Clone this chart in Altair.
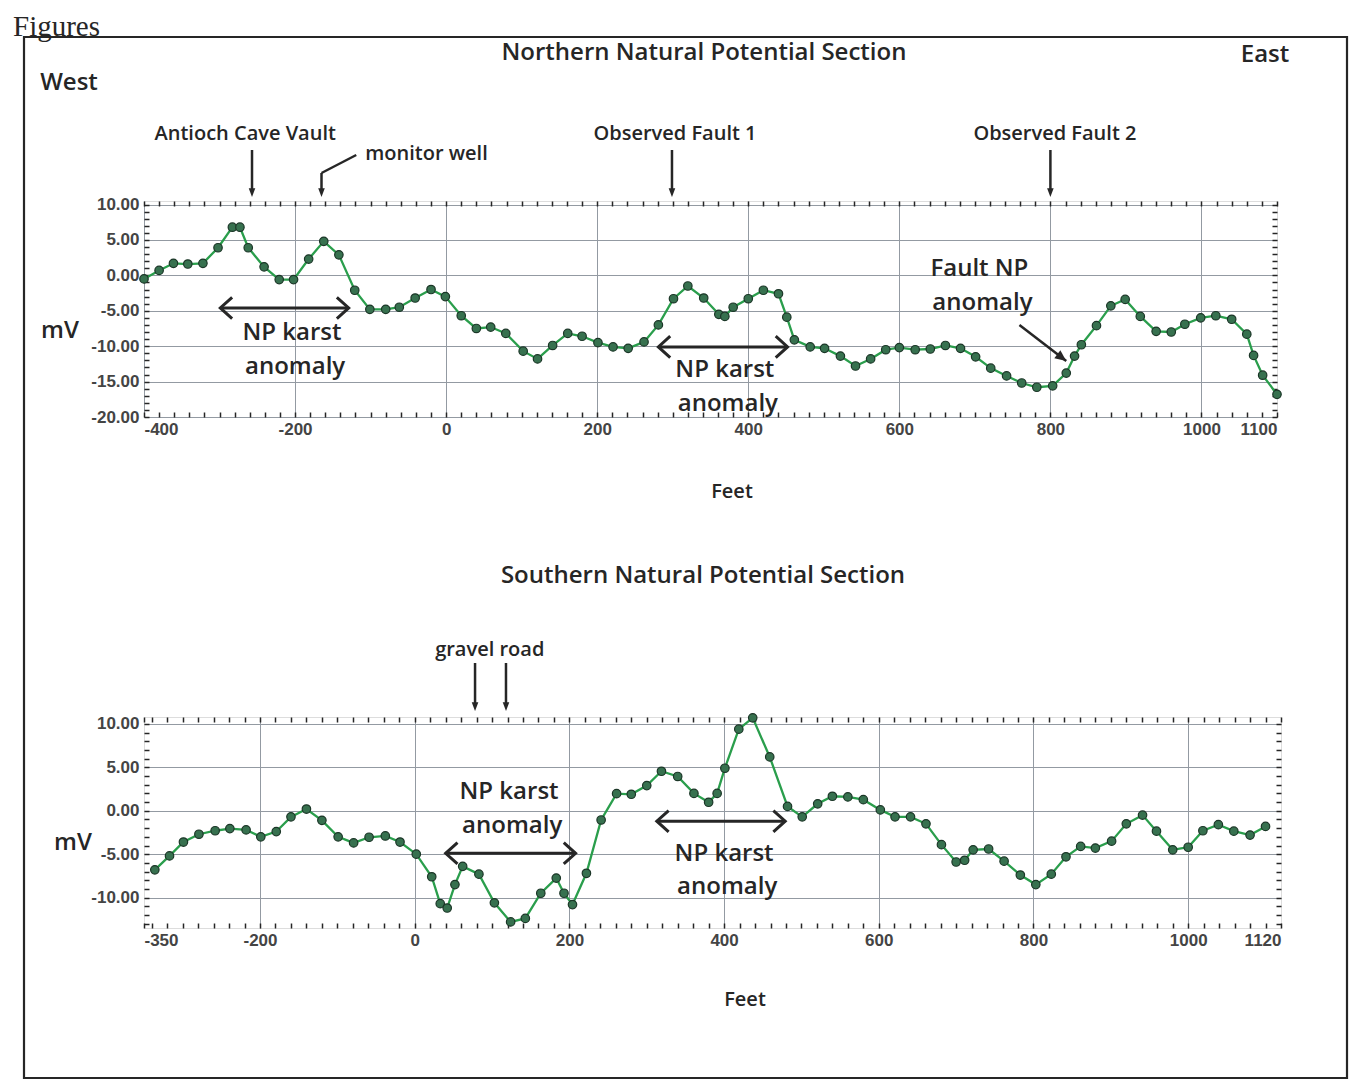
import math
import altair as alt
import pandas as pd

# ---------------- data ----------------
north_ft = [-400, -380, -361, -342, -322, -302, -283, -273, -262, -241,
            -221, -202, -182, -162, -142, -121, -101, -80, -62, -41,
            -20, -1, 20, 40, 59, 79, 102, 121, 141, 161,
            180, 201, 221, 241, 262, 281, 301, 320, 341, 361,
            369, 380, 400, 420, 440, 451, 461, 482, 501, 522,
            542, 562, 582, 600, 621, 641, 661, 681, 701, 721,
            742, 762, 782, 803, 821, 832, 841, 861, 880, 899,
            919, 940, 960, 978, 999, 1019, 1040, 1060, 1069, 1081, 1100]
north_mv = [-0.5, 0.7, 1.7, 1.6, 1.7, 3.9, 6.8, 6.8, 3.9, 1.2,
            -0.6, -0.6, 2.3, 4.8, 2.9, -2.1, -4.8, -4.8, -4.5, -3.2,
            -2.0, -3.0, -5.7, -7.5, -7.3, -8.2, -10.7, -11.8, -9.9, -8.2,
            -8.6, -9.5, -10.1, -10.3, -9.4, -7.0, -3.3, -1.5, -3.2, -5.5,
            -5.8, -4.5, -3.3, -2.1, -2.6, -5.9, -9.1, -10.1, -10.3, -11.4,
            -12.8, -11.8, -10.5, -10.2, -10.5, -10.4, -9.9, -10.3, -11.5, -13.1,
            -14.2, -15.2, -15.8, -15.6, -13.8, -11.4, -9.8, -7.1, -4.3, -3.4,
            -5.8, -7.9, -8.0, -6.9, -6.0, -5.7, -6.2, -8.3, -11.3, -14.1, -16.8]

south_ft = [-336, -317, -299, -279, -258, -239, -218, -199, -179, -160,
            -140, -120, -99, -79, -59, -38, -19, 2, 22, 33,
            42, 52, 62, 83, 103, 124, 143, 163, 183, 193,
            204, 222, 241, 261, 280, 300, 319, 340, 361, 380,
            391, 401, 419, 437, 459, 482, 501, 521, 540, 560,
            580, 602, 621, 641, 661, 681, 700, 711, 722, 742,
            762, 783, 803, 823, 842, 861, 880, 901, 920, 941,
            959, 980, 1000, 1019, 1039, 1059, 1080, 1100]
south_mv = [-6.8, -5.2, -3.6, -2.7, -2.3, -2.05, -2.2, -3.0, -2.4, -0.7,
            0.2, -1.1, -3.0, -3.7, -3.05, -2.9, -3.6, -5.0, -7.6, -10.7,
            -11.2, -8.5, -6.4, -7.3, -10.6, -12.8, -12.4, -9.5, -7.75, -9.5,
            -10.8, -7.2, -1.06, 1.97, 1.9, 2.9, 4.55, 3.95, 2.0, 0.98,
            2.0, 4.9, 9.4, 10.7, 6.2, 0.5, -0.7, 0.8, 1.67, 1.6,
            1.28, 0.1, -0.7, -0.7, -1.5, -3.9, -5.9, -5.7, -4.5, -4.4,
            -5.8, -7.4, -8.5, -7.3, -5.3, -4.1, -4.3, -3.5, -1.5, -0.5,
            -2.35, -4.5, -4.2, -2.3, -1.6, -2.35, -2.8, -1.8]

north_x_labels = [-400, -200, 0, 200, 400, 600, 800, 1000, 1100]
south_x_labels = [-350, -200, 0, 200, 400, 600, 800, 1000, 1120]
north_x_domain = [-400, 1100]
south_x_domain = [-350, 1120]
north_y_domain = [-20, 10.5]
south_y_domain = [-13.5, 10.8]

north_title = "Northern Natural Potential Section"
south_title = "Southern Natural Potential Section"

# features marked above the profiles (feet along the line)
north_features = ["Antioch Cave Vault", "Observed Fault 1", "Observed Fault 2"]
north_feature_label_ft = [-266, 303, 806]
north_feature_arrow_ft = [-257, 299, 800]
monitor_label = ["monitor well"]
monitor_label_ft = [-26]
monitor_bend_ft = [-119, -165]
south_feature = ["gravel road"]
south_feature_label_ft = [97]
south_feature_arrow_ft = [78, 118]

# anomaly brackets and notes (feet, mV)
north_span_x1 = [-299, 281]
north_span_x2 = [-129, 452]
north_span_mv = [-4.6, -10.1]
north_note_text = ["NP karst", "anomaly", "NP karst", "anomaly", "Fault NP", "anomaly"]
north_note_ft = [-204, -200, 369, 373, 706, 710]
north_note_mv = [-8.1, -12.9, -13.3, -18.1, 0.9, -3.9]
fault_arrow_ft = [759, 821]
fault_arrow_mv = [-7.0, -12.1]

south_span_x1 = [40, 313]
south_span_x2 = [208, 479]
south_span_mv = [-4.9, -1.2]
south_note_text = ["NP karst", "anomaly", "NP karst", "anomaly"]
south_note_ft = [122, 126, 400, 404]
south_note_mv = [2.2, -1.8, -5.0, -8.8]

# ---------------- styling ----------------
INK = "#262626"
GRID = "#939aa2"
LINE_GREEN = "#2a9e4c"
DOT_FILL = "#37714f"
DOT_EDGE = "#1b3627"
SANS = "Open Sans"
NUM = "Liberation Sans"
SERIF = "Liberation Serif"
WEIGHT = 600

CHEV_LEFT = "M 1 -0.9 L 0 0 L 1 0.9"
CHEV_RIGHT = "M -1 -0.9 L 0 0 L -1 0.9"
DOWN_HEAD = "M -0.38 -1 L 0.38 -1 L 0 0 Z"
RIGHT_HEAD = "M -1 -0.45 L 0 0 L -1 0.45 Z"

NW, NH = 1133, 216
SW, SH = 1137, 211


def tick_values_x(xdom, xlabels):
    start = int(math.ceil(xdom[0] / 20.0) * 20)
    return sorted(set(range(start, int(xdom[1]) + 1, 20)) | set(xlabels))


def tick_values_y(ydom):
    return list(range(int(math.ceil(ydom[0])), int(math.floor(ydom[1])) + 1))


def profile_layers(ft, mv, xs, ys, xvals, xlabels, yvals):
    df = pd.DataFrame({"ft": ft, "mv": mv})
    lab = ",".join(str(v) for v in xlabels)
    xa = alt.Axis(values=xvals,
                  labelExpr=f"indexof([{lab}], datum.value) >= 0 ? '' + datum.value : ''",
                  labelFlush=True, labelOverlap=False, labelPadding=4,
                  labelFont=NUM, labelFontSize=17, labelFontWeight="bold", labelColor="#444444",
                  grid=True, gridColor=GRID, gridWidth=1,
                  gridOpacity={"condition": {"test": "datum.value % 200 === 0", "value": 1}, "value": 0},
                  domain=False, tickSize=5, tickColor=INK, tickWidth=1.5, offset=-5, title=None)
    ya = alt.Axis(values=yvals,
                  labelExpr="datum.value % 5 === 0 ? replace(format(datum.value, '.2f'), '\u2212', '-') : ''",
                  labelOverlap=False, labelPadding=5,
                  labelFont=NUM, labelFontSize=17, labelFontWeight="bold", labelColor="#444444",
                  grid=True, gridColor=GRID, gridWidth=1,
                  gridOpacity={"condition": {"test": "datum.value % 5 === 0", "value": 1}, "value": 0},
                  domain=False, tickSize=5, tickColor=INK, tickWidth=1.5, offset=-5, title=None)
    xa_top = alt.Axis(orient="top", values=xvals, labels=False, grid=False, domain=False,
                      tickSize=5, tickColor=INK, tickWidth=1.5, offset=-5, title=None)
    ya_right = alt.Axis(orient="right", values=yvals, labels=False, grid=False, domain=False,
                        tickSize=5, tickColor=INK, tickWidth=1.5, offset=-5, title=None)
    base = alt.Chart(df)
    line = base.mark_line(color=LINE_GREEN, strokeWidth=2.3).encode(
        x=alt.X("ft:Q", scale=xs, axis=xa), y=alt.Y("mv:Q", scale=ys, axis=ya))
    minor = base.mark_point(opacity=0).encode(
        x=alt.X("ft:Q", scale=xs, axis=xa_top), y=alt.Y("mv:Q", scale=ys, axis=ya_right))
    dots = base.mark_circle(size=72, color=DOT_FILL, stroke=DOT_EDGE, strokeWidth=1.2, opacity=1).encode(
        x=alt.X("ft:Q", scale=xs, axis=None), y=alt.Y("mv:Q", scale=ys, axis=None))
    return [minor, line, dots]


def note_texts(texts, fts, mvs, xs, ys):
    df = pd.DataFrame({"t": texts, "ft": fts, "mv": mvs})
    return alt.Chart(df).mark_text(font=SANS, fontSize=24, fontWeight=WEIGHT, color=INK,
                                   align="center", baseline="middle").encode(
        x=alt.X("ft:Q", scale=xs, axis=None), y=alt.Y("mv:Q", scale=ys, axis=None), text="t:N")


def span_arrows(x1, x2, mvs, xs, ys):
    base = alt.Chart(pd.DataFrame({"x1": x1, "x2": x2, "mv": mvs}))
    shaft = base.mark_rule(color=INK, strokeWidth=3).encode(
        x=alt.X("x1:Q", scale=xs, axis=None), x2="x2:Q", y=alt.Y("mv:Q", scale=ys, axis=None))
    left = base.mark_point(shape=CHEV_LEFT, filled=False, color=INK, strokeWidth=3, size=560,
                           opacity=1).encode(
        x=alt.X("x1:Q", scale=xs, axis=None), y=alt.Y("mv:Q", scale=ys, axis=None))
    right = base.mark_point(shape=CHEV_RIGHT, filled=False, color=INK, strokeWidth=3, size=560,
                            opacity=1).encode(
        x=alt.X("x2:Q", scale=xs, axis=None), y=alt.Y("mv:Q", scale=ys, axis=None))
    return [shaft, left, right]


def feature_labels(texts, fts, xs, py):
    return alt.Chart(pd.DataFrame({"t": texts, "ft": fts})).mark_text(
        font=SANS, fontSize=20, fontWeight=WEIGHT, color=INK, align="center",
        baseline="middle").encode(
        x=alt.X("ft:Q", scale=xs, axis=None), y=alt.value(py), text="t:N")


def down_arrows(fts, xs, top_py, tip_py):
    base = alt.Chart(pd.DataFrame({"ft": fts}))
    shaft = base.mark_rule(color=INK, strokeWidth=2.5).encode(
        x=alt.X("ft:Q", scale=xs, axis=None), y=alt.value(top_py), y2=alt.value(tip_py - 6))
    head = base.mark_point(shape=DOWN_HEAD, filled=True, color=INK, size=300, opacity=1).encode(
        x=alt.X("ft:Q", scale=xs, axis=None), y=alt.value(tip_py))
    return [shaft, head]


def free_text(txt, px, py, size, font=SANS, align="center", baseline="middle", weight=WEIGHT):
    return alt.Chart(alt.Data(values=[{}])).mark_text(
        text=txt, font=font, fontSize=size, fontWeight=weight, color=INK, align=align,
        baseline=baseline).encode(x=alt.value(px), y=alt.value(py))


# ---------------- northern panel ----------------
nxs = alt.Scale(domain=north_x_domain, nice=False, zero=False)
nys = alt.Scale(domain=north_y_domain, nice=False, zero=False)

frame = alt.Chart(alt.Data(values=[{}])).mark_rect(
    fillOpacity=0, stroke=INK, strokeWidth=2.2).encode(
    x=alt.value(-120), x2=alt.value(1203), y=alt.value(-164), y2=alt.value(877))

monitor_df = pd.DataFrame({"ft": [monitor_bend_ft[0]], "ft2": [monitor_bend_ft[1]]})
monitor_diag = alt.Chart(monitor_df).mark_rule(color=INK, strokeWidth=2.5).encode(
    x=alt.X("ft:Q", scale=nxs, axis=None), x2="ft2:Q", y=alt.value(-46), y2=alt.value(-28))
monitor_down = down_arrows([monitor_bend_ft[1]], nxs, -28, -4)

fault_df = pd.DataFrame({"ft": [fault_arrow_ft[0]], "ft2": [fault_arrow_ft[1]],
                         "mv": [fault_arrow_mv[0]], "mv2": [fault_arrow_mv[1]]})
fault_shaft = alt.Chart(fault_df).mark_rule(color=INK, strokeWidth=2.5).encode(
    x=alt.X("ft:Q", scale=nxs, axis=None), x2="ft2:Q",
    y=alt.Y("mv:Q", scale=nys, axis=None), y2="mv2:Q")
fault_head = alt.Chart(fault_df).mark_point(shape=RIGHT_HEAD, filled=True, color=INK, size=500,
                                            angle=37, opacity=1).encode(
    x=alt.X("ft2:Q", scale=nxs, axis=None), y=alt.Y("mv2:Q", scale=nys, axis=None))

north_layers = (
    [frame]
    + profile_layers(north_ft, north_mv, nxs, nys,
                     tick_values_x(north_x_domain, north_x_labels), north_x_labels,
                     tick_values_y(north_y_domain))
    + span_arrows(north_span_x1, north_span_x2, north_span_mv, nxs, nys)
    + [note_texts(north_note_text, north_note_ft, north_note_mv, nxs, nys)]
    + [fault_shaft, fault_head]
    + [feature_labels(north_features, north_feature_label_ft, nxs, -67),
       feature_labels(monitor_label, monitor_label_ft, nxs, -47)]
    + down_arrows(north_feature_arrow_ft, nxs, -51, -4)
    + [monitor_diag] + monitor_down
    + [free_text("Figures", -131, -188, 29, font=SERIF, align="left", baseline="top",
                 weight="normal"),
       free_text(north_title, 560, -148, 24),
       free_text("West", -75, -118, 24),
       free_text("East", 1121, -146, 24),
       free_text("mV", -84, 130, 24),
       free_text("Feet", 588, 291, 20)]
)
north = alt.layer(*north_layers).properties(width=NW, height=NH).resolve_axis(
    x="independent", y="independent")

# ---------------- southern panel ----------------
sxs = alt.Scale(domain=south_x_domain, nice=False, zero=False)
sys_ = alt.Scale(domain=south_y_domain, nice=False, zero=False)

south_layers = (
    profile_layers(south_ft, south_mv, sxs, sys_,
                   tick_values_x(south_x_domain, south_x_labels), south_x_labels,
                   tick_values_y(south_y_domain))
    + span_arrows(south_span_x1, south_span_x2, south_span_mv, sxs, sys_)
    + [note_texts(south_note_text, south_note_ft, south_note_mv, sxs, sys_)]
    + [feature_labels(south_feature, south_feature_label_ft, sxs, -67)]
    + down_arrows(south_feature_arrow_ft, sxs, -54, -6)
    + [free_text(south_title, 559, -141, 24),
       free_text("mV", -71, 126, 24),
       free_text("Feet", 601, 283, 20)]
)
south = alt.layer(*south_layers).properties(width=SW, height=SH).resolve_axis(
    x="independent", y="independent")

chart = alt.vconcat(north, south, spacing=300, bounds="flush").properties(
    padding={"left": 4, "top": 4, "right": 0, "bottom": 0}
).configure_view(stroke=INK, strokeWidth=2).configure(background="white")

chart.save("out.html", embed_options={"renderer": "svg", "actions": False})
